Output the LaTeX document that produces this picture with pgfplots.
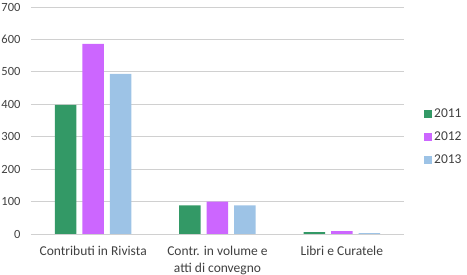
\documentclass[border=0pt]{standalone}
\usepackage{pgfplots}
\pgfplotsset{compat=1.18}
\usepackage{fontspec}
\setmainfont{Carlito}
\definecolor{c2011}{HTML}{339966}
\definecolor{c2012}{HTML}{CC66FF}
\definecolor{c2013}{HTML}{9DC3E6}
\definecolor{txt}{HTML}{404040}
\definecolor{gridc}{HTML}{D0D0D0}
\begin{document}
\begin{tikzpicture}
\begin{axis}[
  at={(0pt,0pt)}, anchor=south west,
  scale only axis, width=373pt, height=227pt,
  ybar=6pt, bar width=21.5pt,
  xmin=-0.5, xmax=2.5, ymin=0, ymax=700,
  ytick={0,100,...,700},
  xtick={0,1,2},
  xticklabels={Contributi in Rivista, {Contr. in volume e\\atti di convegno}, Libri e Curatele},
  xticklabel style={align=center, text=txt, font=\fontsize{13.5}{17}\selectfont, yshift=-9pt},
  yticklabel style={text=txt, font=\fontsize{12.5}{15}\selectfont},
  /pgf/number format/assume math mode=true,
  major tick length=0pt,
  ymajorgrids, xmajorgrids=false, grid style={gridc, line width=0.9pt},
  axis line style={draw=none},
  ytick style={draw=none}, xtick style={draw=none},
  legend style={at={(axis description cs:1,0.427)}, anchor=west, xshift=17pt, draw=none, fill=none,
    font=\fontsize{13.5}{16}\selectfont, text=txt, row sep=9pt,
    /tikz/every even column/.append style={column sep=2pt}},
  legend image code/.code={\fill[#1] (0pt,-4pt) rectangle (8pt,4pt);},
  yticklabel shift=7pt,
  clip=false,
]
\addplot[draw=none, fill=c2011] coordinates {(0,398) (1,88) (2,6)};
\addplot[draw=none, fill=c2012] coordinates {(0,586) (1,100) (2,9)};
\addplot[draw=none, fill=c2013] coordinates {(0,494) (1,88) (2,3)};
\legend{2011,2012,2013}
\end{axis}
\pgfresetboundingbox
\path[use as bounding box] (-31pt,-41pt) rectangle (436pt,234pt);
\end{tikzpicture}
\end{document}
